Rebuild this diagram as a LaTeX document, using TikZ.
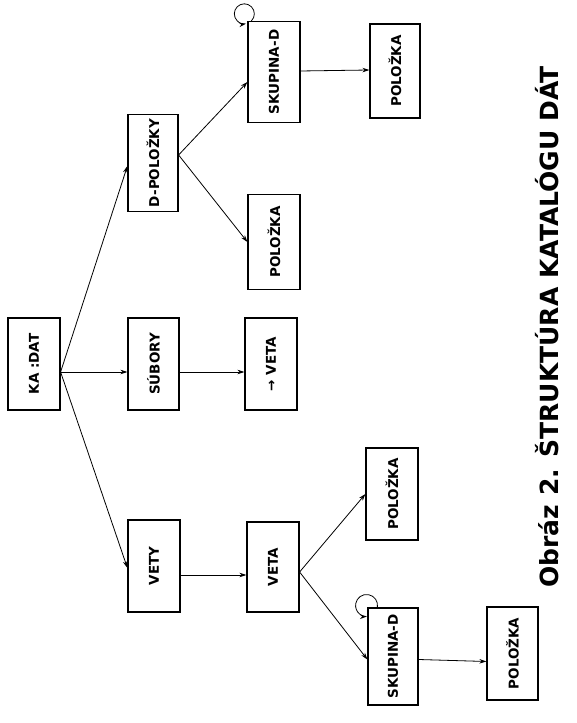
\documentclass[tikz,border=0pt]{standalone}
\usepackage{fontspec}
\setmainfont{DejaVu Sans}
\usetikzlibrary{arrows.meta}
\begin{document}
\begin{tikzpicture}[x=1pt,y=1pt,
  box/.style={draw, line width=1.2pt, inner sep=0pt, font=\fontsize{13.5}{16}\selectfont\bfseries},
  arr/.style={line width=0.8pt, -{Stealth[length=7pt,width=4.5pt]}},
  lbl/.style={font=\fontsize{25}{30}\selectfont\bfseries}]
\useasboundingbox (0,0) rectangle (577,723);
% boxes (y = 723 - image y)
\node[box, minimum width=52pt, minimum height=92pt] (ka)    at (34,359)    {\rotatebox{90}{KA :DAT}};
\node[box, minimum width=50pt, minimum height=97pt] (dpol)  at (153,560)   {\rotatebox{90}{D-POLOŽKY}};
\node[box, minimum width=51pt, minimum height=92pt] (sub)   at (153.5,359) {\rotatebox{90}{SÚBORY}};
\node[box, minimum width=52pt, minimum height=92pt] (vety)  at (154,157)   {\rotatebox{90}{VETY}};
\node[box, minimum width=52pt, minimum height=101pt] (skupA) at (274,651)  {\rotatebox{90}{SKUPINA-D}};
\node[box, minimum width=50pt, minimum height=94pt] (polA)  at (395,652)   {\rotatebox{90}{POLOŽKA}};
\node[box, minimum width=52pt, minimum height=95pt] (polB)  at (274,481)   {\rotatebox{90}{POLOŽKA}};
\node[box, minimum width=52pt, minimum height=92pt] (vetaA) at (271,359)   {\rotatebox{90}{→ VETA}};
\node[box, minimum width=52pt, minimum height=90pt] (vetaB) at (273,156)   {\rotatebox{90}{VETA}};
\node[box, minimum width=52pt, minimum height=92pt] (polC)  at (392,229)   {\rotatebox{90}{POLOŽKA}};
\node[box, minimum width=50pt, minimum height=97pt] (skupB) at (393,66.5)  {\rotatebox{90}{SKUPINA-D}};
\node[box, minimum width=51pt, minimum height=93pt] (polD)  at (512.5,69.5) {\rotatebox{90}{POLOŽKA}};
% caption
\node[lbl, rotate=90] (cap) at (547,396) {Obráz 2. ŠTRUKTÚRA KATALÓGU DÁT};
% connector start points
\coordinate (kaout) at ([yshift=-8pt]ka.east);
\coordinate (dpolout) at ([yshift=8pt]dpol.east);
\coordinate (vetaBout) at ([yshift=-5pt]vetaB.east);
% connectors
\draw[arr] (kaout) -- ([yshift=-3pt]dpol.west);
\draw[arr] (kaout) -- ([yshift=-8pt]sub.west);
\draw[arr] (kaout) -- ([yshift=-2pt]vety.west);
\draw[arr] (dpolout) -- ([yshift=-10pt]skupA.west);
\draw[arr] (dpolout) -- (polB.west);
\draw[arr] ([yshift=1pt]skupA.east) -- ([yshift=1pt]polA.west);
\draw[arr] ([yshift=-8pt]sub.east) -- ([yshift=-8pt]vetaA.west);
\draw[arr] ([yshift=-9pt]vety.east) -- ([yshift=-8pt]vetaB.west);
\draw[arr] (vetaBout) -- (polC.west);
\draw[arr] (vetaBout) -- ([yshift=-3pt]skupB.west);
\draw[arr] ([yshift=-3pt]skupB.east) -- ([yshift=-8pt]polD.west);
% self loops
\draw[arr] ([xshift=4pt]skupA.north west) arc[start angle=-45, end angle=280, radius=10pt];
\draw[arr] ([xshift=10pt]skupB.north west) arc[start angle=-10, end angle=272, radius=11pt];
\end{tikzpicture}
\end{document}
